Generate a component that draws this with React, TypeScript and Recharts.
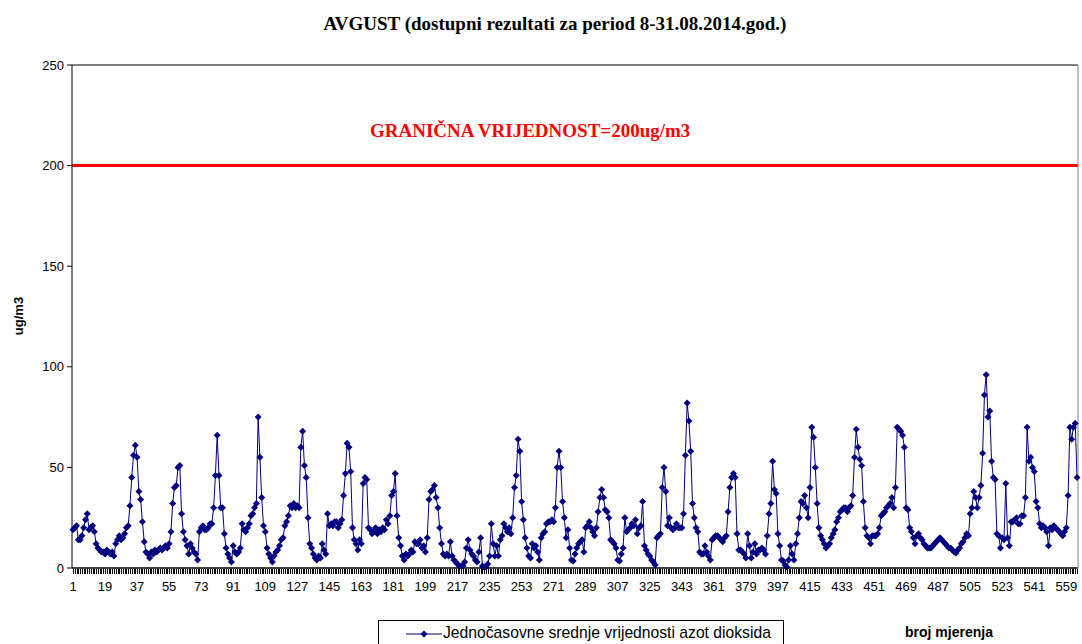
import React from 'react';
import { LineChart, Line, XAxis, YAxis, CartesianGrid, ReferenceLine } from 'recharts';

const title = 'AVGUST (dostupni rezultati za period 8-31.08.2014.god.)';
const seriesName = 'Jednočasovne srednje vrijednosti azot dioksida';
const limitText = 'GRANIČNA VRIJEDNOST=200ug/m3';
const yAxisTitle = 'ug/m3';
const xAxisTitle = 'broj mjerenja';
const limitValue = 200;
const yTicks = [0, 50, 100, 150, 200, 250];
const xTickLabels = [1, 19, 37, 55, 73, 91, 109, 127, 145, 163, 181, 199, 217, 235, 253, 271, 289, 307, 325, 343, 361, 379, 397, 415, 433, 451, 469, 487, 505, 523, 541, 559];

const no2 = [
  19, 20, 21, 14, 14, 16, 20, 24, 27, 19,
  20, 21, 18, 12, 10, 9, 8, 8, 7, 9,
  8, 7, 8, 6, 12, 14, 16, 14, 15, 17,
  20, 21, 31, 45, 56, 61, 55, 38, 34, 23,
  13, 8, 7, 5, 8, 7, 9, 8, 9, 10,
  9, 10, 11, 10, 12, 18, 32, 40, 41, 50,
  51, 27, 18, 14, 11, 7, 12, 10, 8, 7,
  4, 18, 20, 21, 19, 19, 20, 22, 22, 30,
  46, 66, 46, 30, 30, 17, 10, 7, 5, 3,
  11, 8, 7, 8, 10, 22, 19, 18, 20, 22,
  26, 27, 30, 32, 75, 55, 35, 21, 18, 10,
  7, 5, 3, 6, 8, 9, 11, 14, 15, 21,
  23, 26, 31, 30, 32, 30, 31, 30, 60, 68,
  51, 45, 25, 12, 10, 7, 5, 4, 6, 5,
  12, 9, 7, 27, 21, 22, 21, 23, 23, 20,
  22, 24, 36, 47, 62, 60, 48, 20, 14, 12,
  9, 14, 12, 42, 45, 44, 20, 19, 17, 18,
  20, 17, 19, 18, 20, 19, 24, 22, 26, 36,
  38, 47, 26, 15, 11, 6, 4, 7, 6, 7,
  9, 8, 13, 12, 12, 14, 10, 11, 8, 15,
  34, 38, 39, 41, 35, 30, 20, 12, 7, 6,
  7, 6, 13, 6, 4, 3, 2, 1, 1, 1,
  3, 10, 14, 9, 7, 6, 4, 3, 8, 15,
  1, 0.5, 0.5, 2, 6, 22, 12, 6, 11, 6,
  14, 16, 22, 20, 18, 20, 17, 25, 40, 46,
  64, 58, 33, 24, 15, 10, 6, 5, 12, 10,
  11, 8, 4, 15, 17, 18, 22, 23, 23, 24,
  23, 30, 50, 58, 50, 33, 25, 15, 19, 10,
  4, 3.5, 7, 10, 12, 13, 14, 8, 20, 21,
  23, 20, 18, 16, 20, 28, 35, 39, 35, 29,
  28, 25, 14, 13, 12, 10, 4, 3.5, 7, 10,
  25, 18, 19, 20, 22, 21, 24, 17, 20, 21,
  33, 11, 9, 7, 6, 4, 3, 1.5, 15, 16,
  17, 40, 50, 38, 21, 25, 20, 19, 20, 22,
  20, 20, 20, 27, 56, 82, 73, 58, 32, 25,
  20, 18, 8, 7, 7, 11, 8, 6, 4, 14,
  15, 16, 16, 15, 14, 13, 15, 16, 28, 40,
  45, 47, 45, 17, 9, 9, 8, 7, 5, 17,
  11, 5, 8, 12, 7, 9, 9, 10, 9, 7,
  16, 27, 32, 53, 39, 37, 17, 11, 4, 3.5,
  1.5, 0.5, 4, 11, 7, 4, 12, 17, 25, 33,
  32, 36, 30, 25, 40, 70, 65, 50, 32, 20,
  16, 14, 12, 10, 11, 12, 15, 17, 19, 23,
  25, 28, 29, 30, 30, 28, 30, 31, 36, 55,
  69, 60, 54, 51, 33, 20, 16, 15, 12, 16,
  16, 16, 17, 20, 26, 27, 28, 30, 31, 32,
  35, 30, 40, 70, 69, 68, 66, 60, 30, 29,
  20, 18, 15, 12, 16, 17, 15, 14, 12, 11,
  10, 10, 10, 11, 12, 13, 14, 15, 14, 13,
  12, 11, 10, 10, 9, 8, 7.5, 9, 10, 12,
  13, 15, 17, 16, 27, 30, 38, 35, 30, 35,
  41, 57, 86, 96, 75, 78, 53, 45, 44, 17,
  16, 10, 15, 14, 42, 15, 11, 23, 23, 24,
  25, 22, 22, 26, 26, 35, 70, 53, 55, 50,
  48, 33, 30, 22, 20, 21, 20, 18, 11, 20,
  19, 21, 20, 19, 18, 17, 16, 18, 20, 36,
  70, 64, 70, 72, 45,
];

const data = no2.map((v, i) => ({ n: i + 1, v }));
const labelSet = new Set(xTickLabels);

const NAVY = '#000080';
const AXIS_FONT = 'Arial, "Liberation Sans", sans-serif';
const SERIF = '"Times New Roman", "Liberation Serif", serif';
const TICK_SIZE = 5;
const TICK_GAP = 9;

const Diamond = (props: any) => {
  const { cx, cy, index } = props;
  if (cx == null || cy == null) return <g key={index} />;
  const r = 3.5;
  return (
    <path
      key={index}
      d={`M${cx},${cy - r}L${cx + r},${cy}L${cx},${cy + r}L${cx - r},${cy}Z`}
      fill={NAVY}
    />
  );
};

// one crisp tick mark per measurement, a label every 18th
const XTick = (props: any) => {
  const { x, y, payload } = props;
  const axisY = y - TICK_SIZE - TICK_GAP;
  return (
    <g>
      <rect x={Math.round(x)} y={Math.round(axisY) + 1} width={1} height={TICK_SIZE} fill="#000" />
      {labelSet.has(payload.value) && (
        <text x={x} y={y} dy="0.71em" textAnchor="middle" fontSize={13} fontFamily={AXIS_FONT} fill="#000">
          {payload.value}
        </text>
      )}
    </g>
  );
};

export default function App() {
  return (
    <div style={{ position: 'absolute', left: 0, top: 0, width: 1082, height: 644, background: '#fff', overflow: 'hidden' }}>
      <div
        style={{
          position: 'absolute',
          top: 13,
          left: 0,
          width: 1110,
          textAlign: 'center',
          fontFamily: SERIF,
          fontWeight: 'bold',
          fontSize: 19,
          color: '#000',
          whiteSpace: 'nowrap',
        }}
      >
        {title}
      </div>

      <LineChart width={1082} height={644} data={data} margin={{ top: 65, right: 3, left: 12, bottom: 46 }}>
        <CartesianGrid vertical={false} stroke="#000" strokeWidth={1} />
        <XAxis
          dataKey="n"
          interval={0}
          minTickGap={0}
          tick={<XTick />}
          tickSize={TICK_SIZE}
          tickMargin={TICK_GAP}
          tickLine={false}
          height={30}
          padding={{ left: 1, right: 1 }}
          axisLine={{ stroke: '#000' }}
        />
        <YAxis
          yAxisId="left"
          domain={[0, 250]}
          ticks={yTicks}
          width={60}
          tickSize={5}
          tickMargin={3}
          axisLine={{ stroke: '#000' }}
          tickLine={{ stroke: '#000' }}
          tick={{ fill: '#000', fontSize: 13, fontFamily: AXIS_FONT }}
          label={() => (
            <text
              x={18}
              y={316}
              transform="rotate(-90 18 316)"
              textAnchor="middle"
              dominantBaseline="central"
              fontSize={13}
              fontWeight="bold"
              fontFamily={AXIS_FONT}
              fill="#000"
            >
              {yAxisTitle}
            </text>
          )}
        />
        <YAxis yAxisId="right" orientation="right" width={1} tick={false} tickLine={false} axisLine={{ stroke: '#808080' }} domain={[0, 250]} />
        <ReferenceLine
          yAxisId="left"
          y={limitValue}
          stroke="#ff0000"
          strokeWidth={3}
          label={(p: any) => (
            <text
              x={p.viewBox.x + 298}
              y={p.viewBox.y - 29}
              fontSize={19}
              fontWeight="bold"
              fontFamily={SERIF}
              fill="#ff0000"
            >
              {limitText}
            </text>
          )}
        />
        <Line
          yAxisId="left"
          type="linear"
          dataKey="v"
          stroke={NAVY}
          strokeWidth={1}
          dot={<Diamond />}
          activeDot={false}
          isAnimationActive={false}
        />
      </LineChart>

      <div
        style={{
          position: 'absolute',
          left: 378,
          top: 620,
          width: 406,
          height: 40,
          border: '1px solid #000',
          boxSizing: 'border-box',
          fontFamily: AXIS_FONT,
          fontSize: 15.7,
        }}
      >
        <svg width={36} height={14} style={{ position: 'absolute', left: 27, top: 6 }}>
          <line x1={0} y1={7} x2={36} y2={7} stroke={NAVY} strokeWidth={1} />
          <path d="M18,3.5L21.5,7L18,10.5L14.5,7Z" fill={NAVY} />
        </svg>
        <span style={{ position: 'absolute', left: 64, top: 3, whiteSpace: 'nowrap' }}>{seriesName}</span>
      </div>

      <div
        style={{
          position: 'absolute',
          left: 905,
          top: 624,
          fontFamily: AXIS_FONT,
          fontWeight: 'bold',
          fontSize: 14,
          whiteSpace: 'nowrap',
        }}
      >
        {xAxisTitle}
      </div>
    </div>
  );
}
